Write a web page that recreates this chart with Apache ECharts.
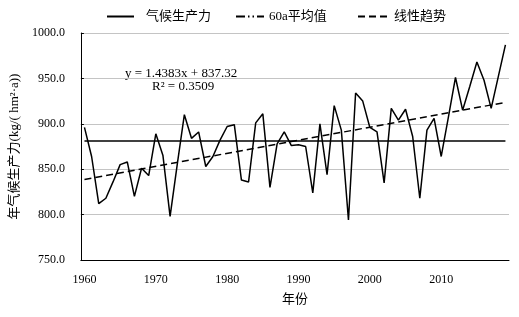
<!DOCTYPE html>
<html>
<head>
<meta charset="utf-8">
<script src="https://cdn.jsdelivr.net/npm/echarts@6/dist/echarts.min.js"></script>
<style>
  html, body { margin: 0; padding: 0; background: #fff; }
  #main { width: 519px; height: 317px; }
</style>
</head>
<body>
<div id="main"></div>
<script>
// 年份 1960-2019
var years = [];
for (var y = 1960; y <= 2019; y++) years.push(String(y));

// 气候生产力 (kg/(hm²·a))
var production = [
  896, 864, 812, 818, 836, 855, 858, 820, 851, 843,
  889, 865, 798, 855, 910, 884, 891, 853, 864, 882,
  897, 899, 838, 836, 901, 911, 830, 878, 891, 876,
  877, 875, 824, 900, 844, 920, 893, 794, 934, 925,
  896, 891, 835, 917, 904, 916, 886, 818, 893, 906,
  864, 907, 951, 915, 941, 968, 948, 917, 952, 987
];

// 图中给出的线性趋势方程 y = 1.4383x + 837.32 (x = 1..60)
var trendSlope = 1.4383;
var trendIntercept = 837.32;

var yTicks = [750, 800, 850, 900, 950, 1000];

var mean = production.reduce(function (a, b) { return a + b; }, 0) / production.length;
var trendStart = trendSlope * 1 + trendIntercept;
var trendEnd = trendSlope * production.length + trendIntercept;

var serif = "'Liberation Serif', 'Times New Roman', 'Noto Sans CJK SC', serif";

var myChart = echarts.init(document.getElementById('main'));

// 图例只画线，不画圆点
var legendBase = {
  top: 5, itemHeight: 14,
  itemStyle: { opacity: 0 },
  textStyle: { fontSize: 13, color: '#000', fontFamily: serif }
};

var option = {
  animation: false,
  textStyle: { fontFamily: serif },
  legend: [
    Object.assign({}, legendBase, {
      data: ['气候生产力'], left: 101, itemWidth: 27,
      textStyle: { fontSize: 13, color: '#000', fontFamily: serif, padding: [0, 0, 0, 7] }
    }),
    Object.assign({}, legendBase, { data: ['60a平均值'], left: 230, itemWidth: 28 }),
    Object.assign({}, legendBase, { data: ['线性趋势'], left: 352, itemWidth: 31 })
  ],
  grid: { left: 77, right: 10, top: 33, bottom: 57, containLabel: false },
  xAxis: {
    type: 'category',
    data: years,
    boundaryGap: true,
    name: '年份',
    nameLocation: 'middle',
    nameGap: 33,
    nameTextStyle: { fontSize: 13, color: '#000', fontFamily: serif },
    axisLine: { lineStyle: { color: '#000', width: 1 } },
    axisTick: { inside: true, length: 4, interval: 9, lineStyle: { color: '#000' } },
    axisLabel: { interval: 9, margin: 14, fontSize: 12, color: '#000', fontFamily: serif },
    splitLine: { show: false }
  },
  yAxis: {
    type: 'value',
    min: yTicks[0],
    max: yTicks[yTicks.length - 1],
    interval: 50,
    name: '年气候生产力(kg/( hm²·a))',
    nameLocation: 'middle',
    nameGap: 58,
    nameTextStyle: { fontSize: 13, color: '#000', fontFamily: serif },
    axisLine: { show: true, lineStyle: { color: '#000', width: 1 } },
    axisTick: { show: true, inside: true, length: 3, lineStyle: { color: '#000' } },
    axisLabel: {
      margin: 16, fontSize: 12, color: '#000', fontFamily: serif,
      formatter: function (v) { return v.toFixed(1); }
    },
    splitLine: { show: true, lineStyle: { color: '#c4c4c4', width: 1 } }
  },
  graphic: [
    {
      type: 'text', left: 125, top: 67,
      style: { text: 'y = 1.4383x + 837.32', font: '13px ' + serif, fill: '#000' }
    },
    {
      type: 'text', left: 152, top: 80,
      style: { text: 'R² = 0.3509', font: '13px ' + serif, fill: '#000' }
    }
  ],
  series: [
    {
      name: '气候生产力',
      type: 'line',
      data: production,
      symbol: 'none',
      lineStyle: { color: '#000', width: 1.5 },
      itemStyle: { color: '#000' },
      z: 3
    },
    {
      name: '60a平均值',
      type: 'line',
      data: [],
      symbol: 'none',
      lineStyle: { color: '#000', width: 1.5, type: [9, 3, 1.5, 3, 1.5, 3] },
      itemStyle: { color: '#000' },
      markLine: {
        silent: true,
        symbol: 'none',
        label: { show: false },
        lineStyle: { color: '#000', width: 1.5, type: 'solid' },
        data: [[
          { coord: [years[0], mean] },
          { coord: [years[years.length - 1], mean] }
        ]]
      }
    },
    {
      name: '线性趋势',
      type: 'line',
      data: [],
      symbol: 'none',
      lineStyle: { color: '#000', width: 1.5, type: [7, 4] },
      itemStyle: { color: '#000' },
      markLine: {
        silent: true,
        symbol: 'none',
        label: { show: false },
        lineStyle: { color: '#000', width: 1.5, type: [7, 4] },
        data: [[
          { coord: [years[0], trendStart] },
          { coord: [years[years.length - 1], trendEnd] }
        ]]
      }
    }
  ]
};

myChart.setOption(option);
</script>
</body>
</html>
